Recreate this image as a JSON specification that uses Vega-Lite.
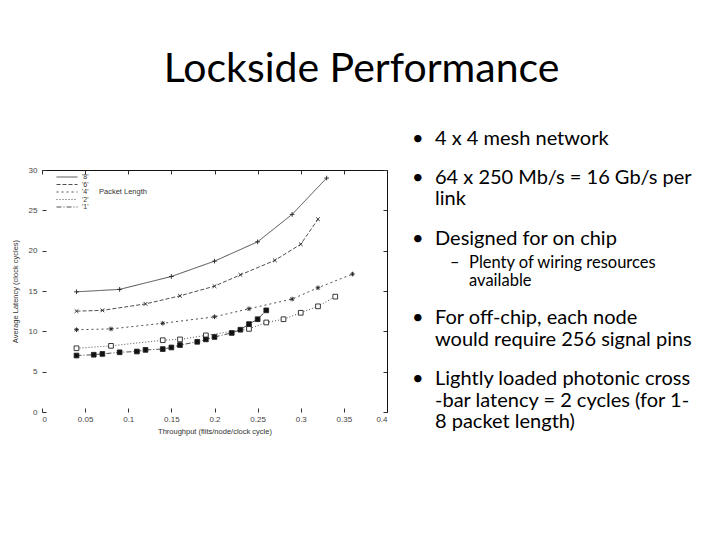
{
  "$schema": "https://vega.github.io/schema/vega-lite/v6.json",
  "padding": {"left": 11, "top": 48, "right": 5, "bottom": 5},
  "background": "white",
  "title": {
    "text": "Lockside Performance",
    "font": "Lato",
    "fontSize": 41,
    "fontWeight": "normal",
    "color": "black",
    "anchor": "middle",
    "offset": 38
  },
  "config": {
    "view": {"stroke": null},
    "font": "Liberation Sans"
  },
  "datasets": {
    "latency": [
      {"series": "8", "throughput": 0.04, "latency": 14.9},
      {"series": "8", "throughput": 0.09, "latency": 15.2},
      {"series": "8", "throughput": 0.15, "latency": 16.8},
      {"series": "8", "throughput": 0.2, "latency": 18.7},
      {"series": "8", "throughput": 0.25, "latency": 21.1},
      {"series": "8", "throughput": 0.29, "latency": 24.5},
      {"series": "8", "throughput": 0.33, "latency": 29.0},
      {"series": "6", "throughput": 0.04, "latency": 12.5},
      {"series": "6", "throughput": 0.07, "latency": 12.6},
      {"series": "6", "throughput": 0.12, "latency": 13.4},
      {"series": "6", "throughput": 0.16, "latency": 14.4},
      {"series": "6", "throughput": 0.2, "latency": 15.6},
      {"series": "6", "throughput": 0.23, "latency": 17.0},
      {"series": "6", "throughput": 0.27, "latency": 18.8},
      {"series": "6", "throughput": 0.3, "latency": 20.8},
      {"series": "6", "throughput": 0.32, "latency": 23.9},
      {"series": "4", "throughput": 0.04, "latency": 10.2},
      {"series": "4", "throughput": 0.08, "latency": 10.3},
      {"series": "4", "throughput": 0.14, "latency": 11.0},
      {"series": "4", "throughput": 0.2, "latency": 11.8},
      {"series": "4", "throughput": 0.24, "latency": 12.8},
      {"series": "4", "throughput": 0.29, "latency": 14.0},
      {"series": "4", "throughput": 0.32, "latency": 15.4},
      {"series": "4", "throughput": 0.36, "latency": 17.1},
      {"series": "2", "throughput": 0.04, "latency": 7.9},
      {"series": "2", "throughput": 0.08, "latency": 8.2},
      {"series": "2", "throughput": 0.14, "latency": 8.9},
      {"series": "2", "throughput": 0.16, "latency": 9.0},
      {"series": "2", "throughput": 0.19, "latency": 9.5},
      {"series": "2", "throughput": 0.24, "latency": 10.3},
      {"series": "2", "throughput": 0.26, "latency": 11.1},
      {"series": "2", "throughput": 0.28, "latency": 11.5},
      {"series": "2", "throughput": 0.3, "latency": 12.3},
      {"series": "2", "throughput": 0.32, "latency": 13.1},
      {"series": "2", "throughput": 0.34, "latency": 14.3},
      {"series": "1", "throughput": 0.04, "latency": 7.0},
      {"series": "1", "throughput": 0.06, "latency": 7.1},
      {"series": "1", "throughput": 0.07, "latency": 7.2},
      {"series": "1", "throughput": 0.09, "latency": 7.4},
      {"series": "1", "throughput": 0.11, "latency": 7.5},
      {"series": "1", "throughput": 0.12, "latency": 7.7},
      {"series": "1", "throughput": 0.14, "latency": 7.8},
      {"series": "1", "throughput": 0.15, "latency": 8.0},
      {"series": "1", "throughput": 0.16, "latency": 8.3},
      {"series": "1", "throughput": 0.18, "latency": 8.7},
      {"series": "1", "throughput": 0.19, "latency": 9.0},
      {"series": "1", "throughput": 0.2, "latency": 9.3},
      {"series": "1", "throughput": 0.22, "latency": 9.8},
      {"series": "1", "throughput": 0.23, "latency": 10.2},
      {"series": "1", "throughput": 0.24, "latency": 10.9},
      {"series": "1", "throughput": 0.25, "latency": 11.5},
      {"series": "1", "throughput": 0.26, "latency": 12.6}
    ],
    "bullets": [
      {"level": 1, "line": 0, "bullet": true, "symbol": "•", "text": "4 x 4 mesh network"},
      {"level": 1, "line": 1.81, "bullet": true, "symbol": "•", "text": "64 x 250 Mb/s = 16 Gb/s per"},
      {"level": 1, "line": 2.79, "bullet": false, "symbol": "", "text": "link"},
      {"level": 1, "line": 4.65, "bullet": true, "symbol": "•", "text": "Designed for on chip"},
      {"level": 2, "line": 5.77, "bullet": true, "symbol": "–", "text": "Plenty of wiring resources"},
      {"level": 2, "line": 6.6, "bullet": false, "symbol": "", "text": "available"},
      {"level": 1, "line": 8.33, "bullet": true, "symbol": "•", "text": "For off-chip, each node"},
      {"level": 1, "line": 9.35, "bullet": false, "symbol": "", "text": "would require 256 signal pins"},
      {"level": 1, "line": 11.16, "bullet": true, "symbol": "•", "text": "Lightly loaded photonic cross"},
      {"level": 1, "line": 12.19, "bullet": false, "symbol": "", "text": "-bar latency = 2 cycles (for 1-"},
      {"level": 1, "line": 13.16, "bullet": false, "symbol": "", "text": "8 packet length)"}
    ]
  },
  "hconcat": [
    {
      "width": 345,
      "height": 242,
      "data": {"name": "latency"},
      "layer": [
        {
          "mark": {"type": "line", "color": "#222", "strokeWidth": 0.8},
          "encoding": {
            "x": {
              "field": "throughput", "type": "quantitative",
              "scale": {"domain": [0, 0.4], "nice": false, "zero": false},
              "axis": {
                "orient": "bottom",
                "title": "Throughput (flits/node/clock cycle)",
                "values": [0, 0.05, 0.1, 0.15, 0.2, 0.25, 0.3, 0.35, 0.4],
                "format": "~g",
                "domain": false, "grid": false,
                "tickSize": -4, "tickColor": "#333",
                "labelPadding": 7, "labelFontSize": 8, "labelColor": "#444",
                "titleFontSize": 7.5, "titleFontWeight": "normal", "titleColor": "#333", "titlePadding": 4
              }
            },
            "y": {
              "field": "latency", "type": "quantitative",
              "scale": {"domain": [0, 30], "nice": false},
              "axis": {
                "orient": "left",
                "title": "Average Latency (clock cycles)",
                "values": [0, 5, 10, 15, 20, 25, 30],
                "domain": false, "grid": false,
                "tickSize": -4, "tickColor": "#333",
                "labelPadding": 9, "labelFontSize": 8, "labelColor": "#444",
                "titleFontSize": 7.5, "titleFontWeight": "normal", "titleColor": "#333", "titlePadding": 9
              }
            },
            "strokeDash": {
              "field": "series", "type": "nominal",
              "scale": {
                "domain": ["8", "6", "4", "2", "1"],
                "range": [[1, 0], [4, 2], [2, 3], [1, 2], [5, 2, 1, 2]]
              },
              "legend": {
                "title": "Packet Length",
                "orient": "none",
                "legendX": 14,
                "legendY": 3,
                "titleOrient": "right",
                "titleFontSize": 7.5,
                "titleFontWeight": "normal",
                "titleColor": "#333",
                "titlePadding": 10,
                "titleAnchor": "middle",
                "titleBaseline": "middle",
                "labelFontSize": 7,
                "labelColor": "#333",
                "labelExpr": "\"'\" + datum.label + \"'\"",
                "labelOffset": 18,
                "symbolType": "M-1,0L5,0",
                "symbolSize": 49,
                "symbolStrokeColor": "#222",
                "symbolStrokeWidth": 0.8,
                "symbolFillColor": "transparent",
                "rowPadding": 0.5,
                "padding": 0
              }
            },
            "detail": {"field": "series", "type": "nominal"}
          }
        },
        {
          "mark": {"type": "point", "filled": true, "stroke": "#222", "strokeWidth": 0.9, "size": 22, "opacity": 1},
          "encoding": {
            "x": {
              "field": "throughput", "type": "quantitative",
              "axis": {
                "orient": "top", "title": null, "labels": false,
                "values": [0, 0.05, 0.1, 0.15, 0.2, 0.25, 0.3, 0.35, 0.4],
                "domain": true, "domainColor": "#111", "domainWidth": 1,
                "grid": false, "tickSize": -4, "tickColor": "#333"
              }
            },
            "y": {
              "field": "latency", "type": "quantitative",
              "axis": {
                "orient": "right", "title": null, "labels": false,
                "values": [0, 5, 10, 15, 20, 25, 30],
                "domain": true, "domainColor": "#111", "domainWidth": 1,
                "grid": false, "tickSize": -4, "tickColor": "#333"
              }
            },
            "shape": {
              "field": "series", "type": "nominal",
              "scale": {
                "range": [
                  "square",
                  "square",
                  "M-1,0L1,0M0,-1L0,1M-0.7,-0.7L0.7,0.7M-0.7,0.7L0.7,-0.7",
                  "M-0.8,-0.8L0.8,0.8M-0.8,0.8L0.8,-0.8",
                  "M-1,0L1,0M0,-1L0,1"
                ]
              },
              "legend": null
            },
            "fill": {
              "field": "series", "type": "nominal",
              "scale": {
                "range": ["#111", "white", "transparent", "transparent", "transparent"]
              },
              "legend": null
            }
          }
        }
      ],
      "resolve": {"axis": {"x": "independent", "y": "independent"}}
    },
    {
      "width": 300,
      "height": 242,
      "data": {"name": "bullets"},
      "encoding": {
        "x": {"field": "level", "type": "quantitative", "scale": {"domain": [1, 8.89], "nice": false, "zero": false}, "axis": null},
        "y": {"field": "line", "type": "quantitative", "scale": {"domain": [1.442, 12.698], "nice": false, "zero": false, "reverse": true}, "axis": null}
      },
      "layer": [
        {
          "transform": [{"filter": "datum.level == 1 && datum.bullet"}],
          "mark": {"type": "text", "font": "Lato", "fontSize": 20, "align": "left", "baseline": "middle", "color": "black"},
          "encoding": {"text": {"field": "symbol"}}
        },
        {
          "transform": [{"filter": "datum.level == 1"}],
          "mark": {"type": "text", "font": "Lato", "fontSize": 20, "align": "left", "baseline": "middle", "dx": 23, "color": "black"},
          "encoding": {"text": {"field": "text"}}
        },
        {
          "transform": [{"filter": "datum.level == 2 && datum.bullet"}],
          "mark": {"type": "text", "font": "Lato", "fontSize": 16.5, "align": "left", "baseline": "middle", "color": "black"},
          "encoding": {"text": {"field": "symbol"}}
        },
        {
          "transform": [{"filter": "datum.level == 2"}],
          "mark": {"type": "text", "font": "Lato", "fontSize": 16.5, "align": "left", "baseline": "middle", "dx": 19, "color": "black"},
          "encoding": {"text": {"field": "text"}}
        }
      ]
    }
  ],
  "spacing": 25,
  "bounds": "flush"
}
